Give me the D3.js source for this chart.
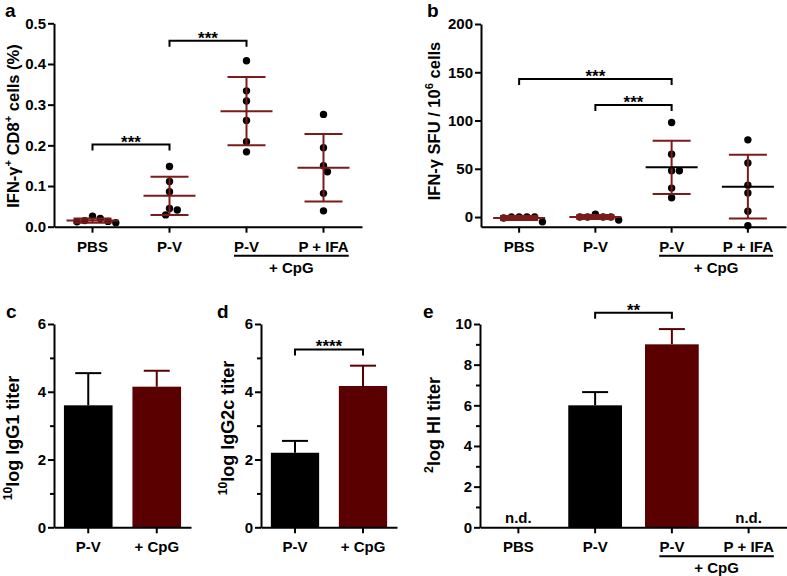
<!DOCTYPE html>
<html><head><meta charset="utf-8">
<script src="https://cdn.jsdelivr.net/npm/d3@7"></script>
<style>body{margin:0;background:#fff}</style>
</head><body><svg id="c" width="787" height="576"></svg>
<script>
// ---------- DATA ----------
const groups4 = ["PBS", "P-V", "P-V", "P + IFA"];
const groups2 = ["P-V", "+ CpG"];
const cpgLabel = "+ CpG";

// panel a: IFN-γ+ CD8+ cells (%)
const aPoints = [
  [0.020, 0.012, 0.010, 0.015, 0.013, 0.026],
  [0.148, 0.111, 0.086, 0.045, 0.041, 0.029],
  [0.408, 0.334, 0.309, 0.261, 0.209, 0.184],
  [0.276, 0.194, 0.150, 0.135, 0.082, 0.039]
];
const aMean = [0.015, 0.076, 0.284, 0.145];
const aSD = [0.005, 0.047, 0.084, 0.083];
const aTicks = [0, 0.1, 0.2, 0.3, 0.4, 0.5];
const aBrackets = [
  { from: 0, to: 1, at: 0.202, label: "***" },
  { from: 1, to: 2, at: 0.457, label: "***" }
];

// panel b: IFN-γ SFU / 10^6 cells
const bPoints = [
  [0, 0, -5, -1, 0, 0],
  [0, -3, 0, 0, 0, 3],
  [98, 65, 48, 48, 30, 20],
  [80, 56, 33, 25, 6, -9]
];
const bMean = [-1, 0, 51.5, 31.5];
const bSD = [2, 2, 27.5, 33];
const bTicks = [0, 50, 100, 150, 200];
const bBrackets = [
  { from: 0, to: 2, at: 143, label: "***" },
  { from: 1, to: 2, at: 116, label: "***" }
];

// panel c: 10log IgG1 titer
const cValues = [3.6, 4.15];
const cErr = [0.95, 0.47];
// panel d: 10log IgG2c titer
const dValues = [2.2, 4.17];
const dErr = [0.35, 0.6];
const dBrackets = [{ from: 0, to: 1, at: 5.25, label: "****" }];
const cdTicks = [0, 2, 4, 6];
const cdMinor = [1, 3, 5];
// panel e: 2log HI titer
const eValues = [null, 6.0, 9.0, null];
const eErr = [null, 0.65, 0.75, null];
const eBrackets = [{ from: 1, to: 2, at: 10.55, label: "**" }];
const eTicks = [0, 2, 4, 6, 8, 10];
const eMinor = [1, 3, 5, 7, 9];
const ndLabel = "n.d.";

// ---------- STYLE ----------
const FONT = "'Liberation Sans', Arial, Helvetica, sans-serif";
const RED = "#7d1b1b";
const BAR_RED = "#5a0000";
const bMeanColors = [RED, RED, "#000", "#000"];
const aMeanColors = [RED, RED, RED, RED];

const svg = d3.select("#c");
svg.append("rect").attr("width", 787).attr("height", 576).attr("fill", "#fff");

function styleAxis(a, fs) {
  a.attr("font-family", FONT).attr("font-size", fs).attr("font-weight", "bold");
  a.select(".domain").attr("stroke", "#000").attr("stroke-width", 2);
  a.selectAll(".tick line").attr("stroke", "#000").attr("stroke-width", 2);
  a.selectAll(".tick text").attr("fill", "#000");
}

function richText(g, x, y, parts, fs, rotate) {
  const t = g.append("text")
    .attr("transform", `translate(${x},${y})` + (rotate ? " rotate(-90)" : ""))
    .attr("text-anchor", "middle")
    .attr("font-family", FONT).attr("font-weight", "bold")
    .attr("font-size", fs).attr("fill", "#000");
  let shifted = 0;
  parts.forEach(([s, sup]) => {
    const ts = t.append("tspan").text(s);
    if (sup) {
      ts.attr("font-size", fs * 0.68).attr("dy", -fs * 0.4 - shifted);
      shifted = -fs * 0.4;
    } else {
      ts.attr("dy", -shifted);
      shifted = 0;
    }
  });
  return t;
}

function xAxis(g, x, yPix, labels, pad, fs) {
  const ax = d3.axisBottom(x).tickSize(6).tickSizeOuter(0).tickPadding(pad)
    .tickFormat(i => labels[i]);
  const a = g.append("g").attr("transform", `translate(0,${yPix})`).call(ax);
  styleAxis(a, fs);
  return a;
}

function yAxis(g, y, x0, ticks, minor, fmt, fs) {
  const a = g.append("g").attr("transform", `translate(${x0},0)`)
    .call(d3.axisLeft(y).tickValues(ticks).tickFormat(fmt).tickSize(6).tickSizeOuter(0).tickPadding(2));
  styleAxis(a, fs);
  if (minor) {
    const m = g.append("g").attr("transform", `translate(${x0},0)`)
      .call(d3.axisLeft(y).tickValues(minor).tickFormat("").tickSize(4).tickSizeOuter(0));
    m.select(".domain").remove();
    m.selectAll(".tick line").attr("stroke", "#000").attr("stroke-width", 2);
  }
}

function cpgUnderline(g, axisG, i1, i2, lineY, textY) {
  const texts = axisG.selectAll(".tick text").nodes();
  const b1 = texts[i1].getBBox(), b2 = texts[i2].getBBox();
  const m1 = texts[i1].parentNode.transform.baseVal.consolidate().matrix.e;
  const m2 = texts[i2].parentNode.transform.baseVal.consolidate().matrix.e;
  const xl = m1 + b1.x, xr = m2 + b2.x + b2.width;
  g.append("line").attr("x1", xl).attr("x2", xr).attr("y1", lineY).attr("y2", lineY)
    .attr("stroke", "#000").attr("stroke-width", 2);
  g.append("text").attr("x", (xl + xr) / 2).attr("y", textY).attr("text-anchor", "middle")
    .attr("font-family", FONT).attr("font-weight", "bold").attr("font-size", 15).text(cpgLabel);
}

function brackets(g, x, y, list) {
  list.forEach(b => {
    const x1 = x(b.from) + x.bandwidth() / 2, x2 = x(b.to) + x.bandwidth() / 2, yy = y(b.at);
    g.append("path").attr("d", `M${x1},${yy + 6}V${yy}H${x2}V${yy + 6}`)
      .attr("fill", "none").attr("stroke", "#000").attr("stroke-width", 2);
    g.append("text").attr("x", (x1 + x2) / 2).attr("y", yy + 3).attr("text-anchor", "middle")
      .attr("font-family", FONT).attr("font-weight", "bold").attr("font-size", 17).text(b.label);
  });
}

function swarm(vals, y, r) {
  const idx = vals.map((v, i) => i).sort((p, q) => vals[q] - vals[p]);
  const placed = [], off = new Array(vals.length).fill(0);
  for (const i of idx) {
    const py = y(vals[i]);
    let o = 0;
    for (let k = 0; k < 60; k++) {
      const cand = k === 0 ? 0 : (k % 2 ? 1 : -1) * Math.ceil(k / 2) * r * 1.05;
      if (placed.every(p => Math.hypot(p.x - cand, p.y - py) >= 2 * r - 0.3)) { o = cand; break; }
    }
    off[i] = o; placed.push({ x: o, y: py });
  }
  return off;
}

function letter(ch, x, y) {
  svg.append("text").attr("x", x).attr("y", y).attr("font-family", FONT)
    .attr("font-weight", "bold").attr("font-size", 19).text(ch);
}

// ---------- scatter panels ----------
function scatterPanel(o) {
  const g = svg.append("g");
  const x = d3.scaleBand().domain(d3.range(o.labels.length)).range([o.x0, o.x1]);
  const y = d3.scaleLinear().domain(o.domain).range([o.yBot, o.yTop]);
  yAxis(g, y, o.x0, o.ticks, null, o.fmt, 15);
  const xa = xAxis(g, x, o.yBot, o.labels, 9, 15);
  cpgUnderline(g, xa, 2, 3, o.yBot + 29, o.yBot + 46);
  const r = 3.7, mw = 26, cw = 19;
  o.points.forEach((vals, gi) => {
    const cx = x(gi) + x.bandwidth() / 2;
    const off = swarm(vals, y, r);
    g.selectAll(null).data(vals).enter().append("circle")
      .attr("cx", (d, i) => cx + off[i]).attr("cy", d => y(d)).attr("r", r).attr("fill", "#000");
    const m = o.mean[gi], s = o.sd[gi];
    g.append("line").attr("x1", cx).attr("x2", cx).attr("y1", y(m - s)).attr("y2", y(m + s))
      .attr("stroke", RED).attr("stroke-width", 2);
    [m - s, m + s].forEach(v => g.append("line").attr("x1", cx - cw).attr("x2", cx + cw)
      .attr("y1", y(v)).attr("y2", y(v)).attr("stroke", RED).attr("stroke-width", 2));
    g.append("line").attr("x1", cx - mw).attr("x2", cx + mw).attr("y1", y(m)).attr("y2", y(m))
      .attr("stroke", o.meanColors[gi]).attr("stroke-width", 2);
  });
  brackets(g, x, y, o.brackets);
}

scatterPanel({ x0: 54, x1: 362, yTop: 23.3, yBot: 226.7, domain: [0, 0.5], ticks: aTicks,
  fmt: d3.format(".1f"), labels: groups4, points: aPoints, mean: aMean, sd: aSD,
  meanColors: aMeanColors, brackets: aBrackets });
scatterPanel({ x0: 481, x1: 786, yTop: 24, yBot: 226.7, domain: [-10, 200], ticks: bTicks,
  fmt: d3.format("d"), labels: groups4, points: bPoints, mean: bMean, sd: bSD,
  meanColors: bMeanColors, brackets: bBrackets });

// ---------- bar panels ----------
function barPanel(o) {
  const g = svg.append("g");
  const x = d3.scaleBand().domain(d3.range(o.labels.length)).range([o.x0, o.x1])
    .paddingInner(o.pad).paddingOuter(o.pad / 2);
  const y = d3.scaleLinear().domain(o.domain).range([527.3, 324]);
  yAxis(g, y, o.x0, o.ticks, o.minor, d3.format("d"), 15);
  const xa = xAxis(g, x, 527.3, o.labels, 8, 15);
  if (o.cpg) cpgUnderline(g, xa, 2, 3, 556.3, 573);
  o.values.forEach((v, i) => {
    const cx = x(i) + x.bandwidth() / 2;
    if (v == null) {
      g.append("text").attr("x", cx).attr("y", 523).attr("text-anchor", "middle")
        .attr("font-family", FONT).attr("font-weight", "bold").attr("font-size", 15).text(ndLabel);
      return;
    }
    const col = o.colors[i];
    g.append("line").attr("x1", cx).attr("x2", cx).attr("y1", y(v)).attr("y2", y(v + o.err[i]))
      .attr("stroke", col).attr("stroke-width", 2);
    g.append("line").attr("x1", cx - 13).attr("x2", cx + 13).attr("y1", y(v + o.err[i]))
      .attr("y2", y(v + o.err[i])).attr("stroke", col).attr("stroke-width", 2);
    g.append("rect").attr("x", x(i)).attr("width", x.bandwidth()).attr("y", y(v))
      .attr("height", y(0) - y(v)).attr("fill", col);
  });
  if (o.brackets) brackets(g, x, y, o.brackets);
  g.node().appendChild(xa.node());
}

barPanel({ x0: 54, x1: 191, domain: [0, 6], ticks: cdTicks, minor: cdMinor, labels: groups2,
  values: cValues, err: cErr, colors: ["#000", BAR_RED], pad: 0.29 });
barPanel({ x0: 261, x1: 397, domain: [0, 6], ticks: cdTicks, minor: cdMinor, labels: groups2,
  values: dValues, err: dErr, colors: ["#000", BAR_RED], pad: 0.29, brackets: dBrackets });
barPanel({ x0: 480, x1: 787, domain: [0, 10], ticks: eTicks, minor: eMinor, labels: groups4,
  values: eValues, err: eErr, colors: [null, "#000", BAR_RED, null], pad: 0.3, brackets: eBrackets, cpg: true });

// ---------- axis titles ----------
richText(svg, 19, 126, [["IFN-γ"], ["+", 1], [" CD8"], ["+", 1], [" cells (%)"]], 16.5, true);
richText(svg, 440, 121, [["IFN-γ SFU / 10"], ["6", 1], [" cells"]], 16.5, true);
richText(svg, 19, 438, [["10", 1], ["log IgG1 titer"]], 18, true);
richText(svg, 234, 428, [["10", 1], ["log IgG2c titer"]], 18, true);
richText(svg, 440, 425, [["2", 1], ["log HI titer"]], 18, true);

// ---------- panel letters ----------
letter("a", 5, 17);
letter("b", 427, 17);
letter("c", 6, 318);
letter("d", 217, 318);
letter("e", 423, 318);
</script></body></html>
